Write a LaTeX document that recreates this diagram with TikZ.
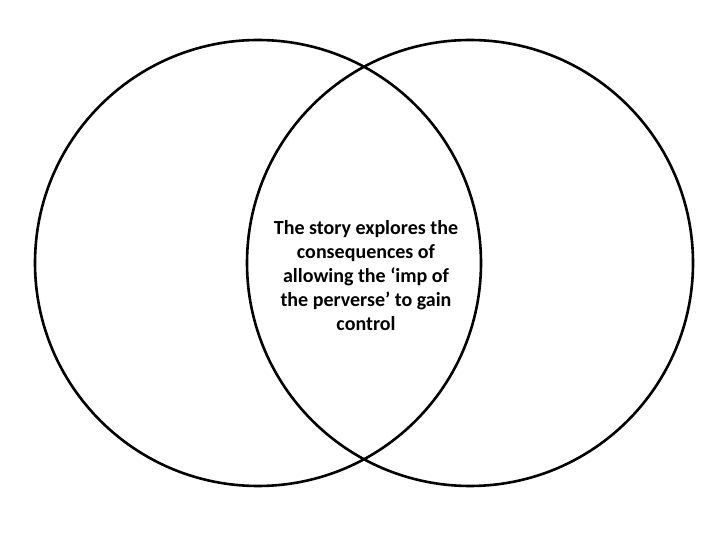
\documentclass[tikz,border=0pt]{standalone}
\usepackage{fontspec}
\setmainfont{Carlito}
\usetikzlibrary{positioning}

\begin{document}
\begin{tikzpicture}[
    x=1pt, y=1pt,
    ring/.style={
        circle,
        draw=black,
        line width=2.6pt,
        minimum size=446pt,
        inner sep=0pt
    },
    lbl/.style={
        font=\fontsize{20}{24}\selectfont\bfseries,
        color=black,
        align=center
    }
]
\useasboundingbox (0,0) rectangle (728,546);

% Circles
\node[ring] (leftset)  at (258, 283) {};
\node[ring] (rightset) at (470, 283) {};

% Overlap text
\node[lbl] (overlap) at (366, 270) {The story explores the\\consequences of\\allowing the ‘imp of\\the perverse’ to gain\\control};

\end{tikzpicture}
\end{document}
